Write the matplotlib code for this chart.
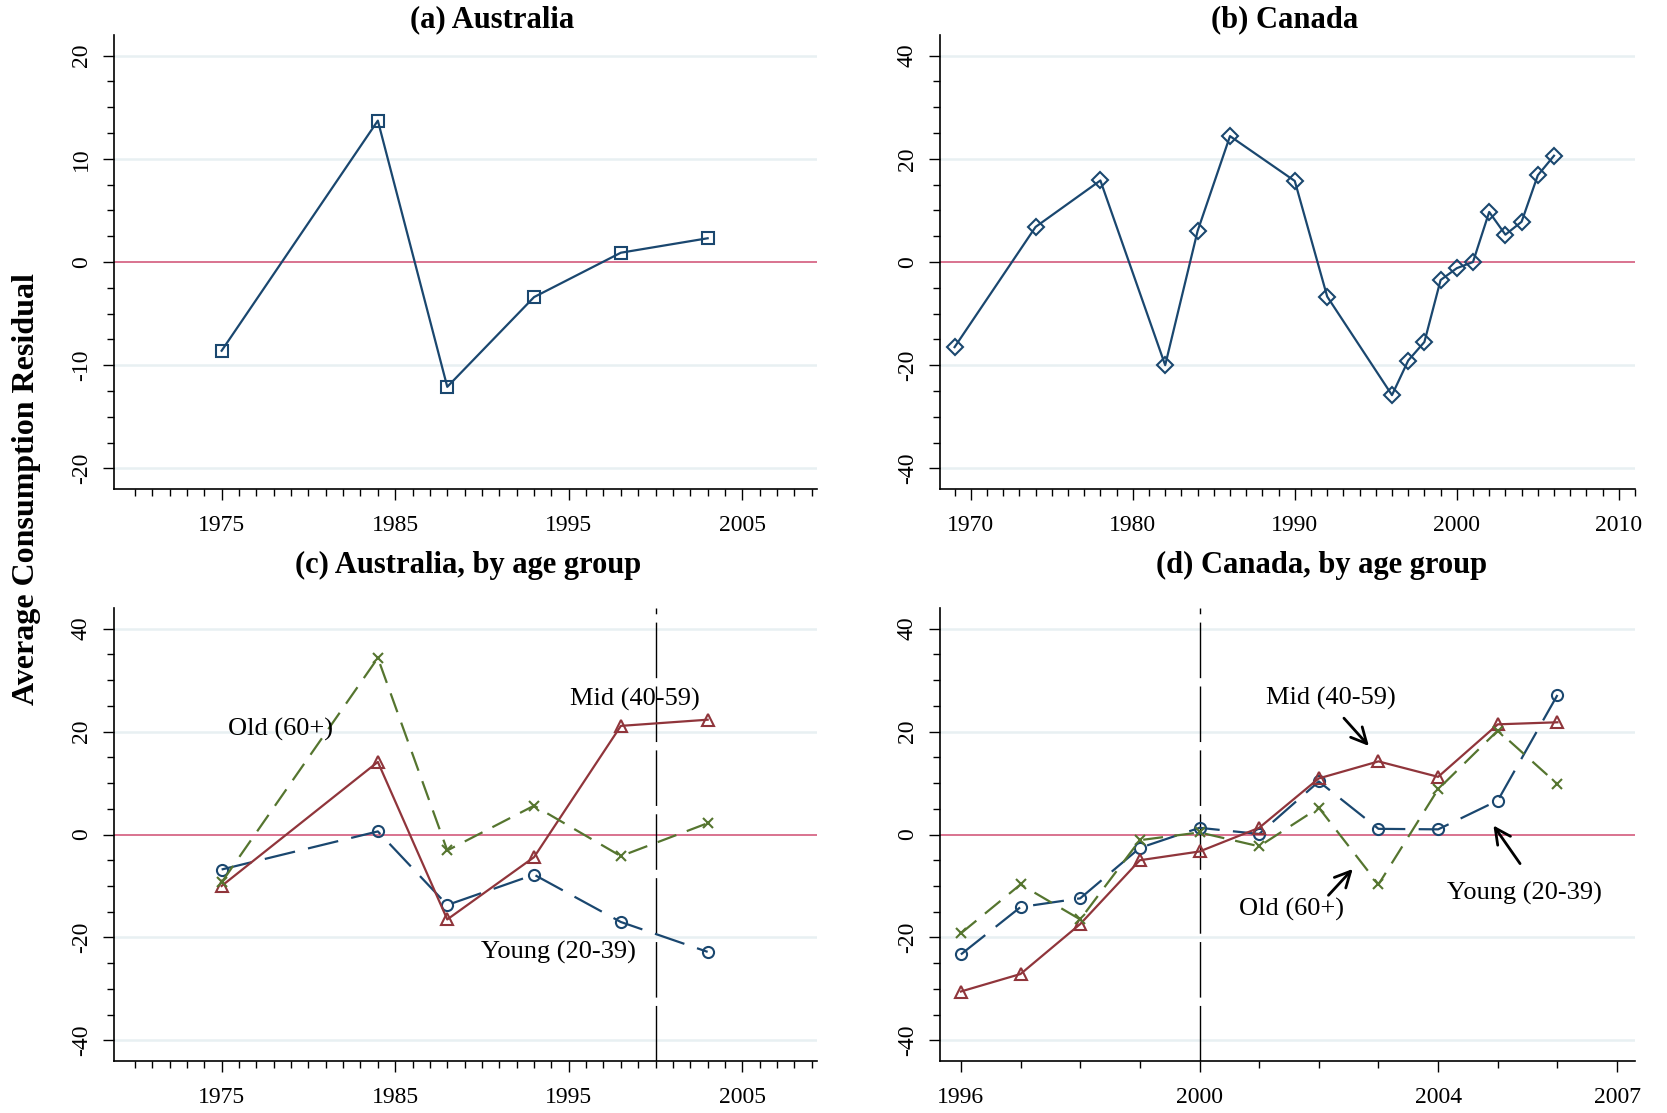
import numpy as np
import matplotlib
matplotlib.use("Agg")
import matplotlib.pyplot as plt
from matplotlib.ticker import MultipleLocator

plt.rcParams['font.family'] = ['Liberation Serif', 'DejaVu Serif']
plt.rcParams['axes.unicode_minus'] = False

# (a) Australia
aus_years = [1975, 1984, 1988, 1993, 1998, 2003]
aus_resid = [-8.6, 13.7, -12.1, -3.4, 0.9, 2.3]

# (b) Canada
can_years = [1969, 1974, 1978, 1982, 1984, 1986, 1990, 1992, 1996, 1997,
             1998, 1999, 2000, 2001, 2002, 2003, 2004, 2005, 2006]
can_resid = [-16.5, 6.8, 15.8, -20.0, 6.0, 24.4, 15.7, -6.7, -25.8, -19.1,
             -15.5, -3.5, -1.2, 0.0, 9.7, 5.3, 7.8, 16.8, 20.6]

# (c) Australia by age group
aus_mid = [-10.0, 14.1, -16.5, -4.4, 21.1, 22.3]
aus_old = [-9.3, 34.3, -3.1, 5.6, -4.2, 2.2]
aus_young = [-6.8, 0.6, -13.7, -7.8, -17.0, -22.8]

# (d) Canada by age group
cag_years = [1996, 1997, 1998, 1999, 2000, 2001, 2002, 2003, 2004, 2005, 2006]
can_mid = [-30.5, -27.1, -17.4, -5.0, -3.3, 1.3, 10.9, 14.2, 11.2, 21.4, 21.8]
can_young = [-23.3, -14.1, -12.4, -2.6, 1.3, 0.1, 10.3, 1.1, 1.0, 6.6, 27.1]
can_old = [-19.2, -9.7, -16.5, -1.1, 0.4, -2.3, 5.2, -9.7, 8.8, 20.2, 9.8]

navy = '#1a476f'
maroon = '#90353b'
green = '#55752f'
zero_col = '#d9738f'
grid_col = '#e8f0f2'

fig = plt.figure(figsize=(16.67, 11.13), dpi=100)
W, H = 1667, 1113


def make_ax(l, t, r, b):
    return fig.add_axes([l / W, 1 - b / H, (r - l) / W, (b - t) / H])


def style(ax, ylim, ymaj, ymin):
    ax.set_ylim(*ylim)
    ax.yaxis.set_major_locator(MultipleLocator(ymaj))
    ax.yaxis.set_minor_locator(MultipleLocator(ymin))
    for s in ['top', 'right']:
        ax.spines[s].set_visible(False)
    ax.spines['left'].set_linewidth(1.2)
    ax.spines['bottom'].set_linewidth(1.2)
    ax.tick_params(axis='both', which='major', labelsize=17, length=8, width=1)
    ax.tick_params(axis='both', which='minor', length=5, width=1)
    ax.tick_params(axis='y', labelrotation=90, pad=8)
    for lab in ax.get_yticklabels():
        lab.set_verticalalignment('center')
    ax.tick_params(axis='x', pad=11)
    for v in ax.get_yticks():
        if v != 0 and ylim[0] < v < ylim[1]:
            ax.axhline(v, color=grid_col, lw=1.8, zorder=0)
    ax.axhline(0, color=zero_col, lw=1.4, zorder=1)


def year_axis(ax, xlim, majors, first, last):
    ax.set_xlim(*xlim)
    ax.set_xticks(majors)
    ax.set_xticks(np.arange(first, last + 1), minor=True)


# panel a
ax = make_ax(114, 35, 817, 489)
ax.plot(aus_years, aus_resid, color=navy, lw=1.6, marker='s', ms=8,
        mfc='none', mec=navy, mew=1.5, zorder=3)
year_axis(ax, (1968.8, 2009.3), [1975, 1985, 1995, 2005], 1970, 2009)
style(ax, (-22, 22), 10, 2.5)

# panel b
ax = make_ax(940, 35, 1635, 489)
ax.plot(can_years, can_resid, color=navy, lw=1.6, marker='D', ms=8,
        mfc='none', mec=navy, mew=1.5, zorder=3)
year_axis(ax, (1968.1, 2011.0), [1970, 1980, 1990, 2000, 2010], 1969, 2011)
style(ax, (-44, 44), 20, 5)

# panel c
ax = make_ax(114, 608, 817, 1061)
ax.plot(aus_years, aus_young, color=navy, lw=1.6, marker='o', ms=8,
        mfc='none', mec=navy, mew=1.5, dashes=(14, 6), zorder=3)
ax.plot(aus_years, aus_mid, color=maroon, lw=1.6, marker='^', ms=9,
        mfc='none', mec=maroon, mew=1.5, zorder=3)
ax.plot(aus_years, aus_old, color=green, lw=1.6, marker='x', ms=7,
        mec=green, mew=1.5, dashes=(9, 5), zorder=3)
ax.axvline(2000, color='black', lw=1.0, dashes=(40, 6), zorder=2)
year_axis(ax, (1968.8, 2009.3), [1975, 1985, 1995, 2005], 1970, 2009)
style(ax, (-44, 44), 20, 5)
ax.text(1978.4, 20.4, 'Old (60+)', fontsize=19, ha='center', va='center')
ax.text(1998.8, 26.3, 'Mid (40-59)', fontsize=19, ha='center', va='center')
ax.text(1994.4, -23.0, 'Young (20-39)', fontsize=19, ha='center', va='center')

# panel d
ax = make_ax(940, 608, 1635, 1061)
ax.plot(cag_years, can_young, color=navy, lw=1.6, marker='o', ms=8,
        mfc='none', mec=navy, mew=1.5, dashes=(14, 6), zorder=3)
ax.plot(cag_years, can_mid, color=maroon, lw=1.6, marker='^', ms=9,
        mfc='none', mec=maroon, mew=1.5, zorder=3)
ax.plot(cag_years, can_old, color=green, lw=1.6, marker='x', ms=7,
        mec=green, mew=1.5, dashes=(9, 5), zorder=3)
ax.axvline(2000, color='black', lw=1.0, dashes=(40, 6), zorder=2)
year_axis(ax, (1995.65, 2007.3), [1996, 2000, 2004, 2007], 1996, 2007)
style(ax, (-44, 44), 20, 5)
arr = dict(arrowstyle='->', color='black', lw=2, mutation_scale=28)
ax.text(2002.2, 26.5, 'Mid (40-59)', fontsize=19, ha='center', va='center')
ax.annotate('', xy=(2002.87, 16.8), xytext=(2002.39, 23.0), arrowprops=arr)
ax.text(2001.55, -14.6, 'Old (60+)', fontsize=19, ha='center', va='center')
ax.annotate('', xy=(2002.6, -6.3), xytext=(2002.13, -12.2), arrowprops=arr)
ax.text(2005.45, -11.5, 'Young (20-39)', fontsize=19, ha='center', va='center')
ax.annotate('', xy=(2004.9, 2.2), xytext=(2005.4, -6.1), arrowprops=arr)

# titles
fig.text(492 / W, 1 - 20 / H, '(a) Australia', fontsize=22, fontweight='bold',
         ha='center', va='center')
fig.text(1285 / W, 1 - 20 / H, '(b) Canada', fontsize=22, fontweight='bold',
         ha='center', va='center')
fig.text(468 / W, 1 - 565 / H, '(c) Australia, by age group', fontsize=22,
         fontweight='bold', ha='center', va='center')
fig.text(1322 / W, 1 - 565 / H, '(d) Canada, by age group', fontsize=22,
         fontweight='bold', ha='center', va='center')
fig.text(27 / W, 1 - 489 / H, 'Average Consumption Residual', fontsize=23,
         fontweight='bold', rotation=90, ha='center', va='center')

fig.savefig('out.png', dpi=100)
